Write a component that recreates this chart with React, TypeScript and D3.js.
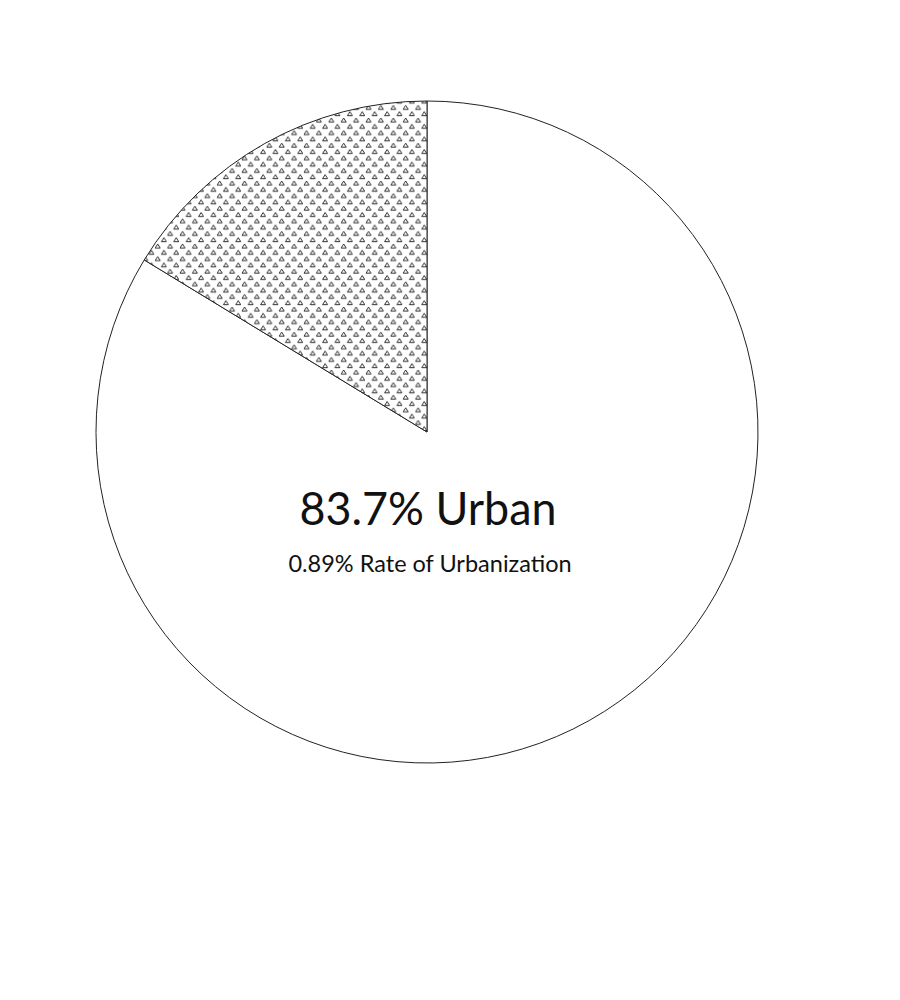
import React from "react";
import { pie, arc, PieArcDatum } from "d3";

// chart size (svg sits inside the 8px body margin)
const width = 884;
const height = 984;

const cx = 419;
const cy = 424;
const radius = 331;

// Data
const categories = ["Urban", "Rural"];
const shares = [83.7, 16.3];
const headline = "83.7% Urban";
const subline = "0.89% Rate of Urbanization";

type Slice = { name: string; value: number };
const slices: Slice[] = categories.map((name, i) => ({ name, value: shares[i] }));

const pieGen = pie<Slice>()
  .sort(null)
  .value((d) => d.value)
  .startAngle(0)
  .endAngle(Math.PI * 2);

const arcGen = arc<PieArcDatum<Slice>>().innerRadius(0).outerRadius(radius);

const fontFamily = "'Gill Sans', Lato, 'Open Sans', sans-serif";

// small outlined triangles, staggered rows
const TrianglePattern = () => (
  <pattern id="tri" patternUnits="userSpaceOnUse" width={12.4} height={12.6}>
    <rect width={12.4} height={12.6} fill="#fff" />
    <path d="M1,5 L3.5,1 L6,5 Z" fill="none" stroke="#1a1a1a" strokeWidth={0.9} />
    <path d="M7.2,11.3 L9.7,7.3 L12.2,11.3 Z" fill="none" stroke="#1a1a1a" strokeWidth={0.9} />
  </pattern>
);

const App = () => {
  const arcs = pieGen(slices);
  return (
    <svg width={width} height={height} style={{ display: "block" }}>
      <defs>
        <TrianglePattern />
      </defs>
      <g transform={`translate(${cx},${cy})`}>
        {arcs.map((a) => (
          <path
            key={a.data.name}
            d={arcGen(a) ?? ""}
            fill={a.data.name === "Rural" ? "url(#tri)" : "#fff"}
            stroke="#222"
            strokeWidth={1}
          />
        ))}
        <text
          x={1}
          y={93}
          textAnchor="middle"
          fontFamily={fontFamily}
          fontSize={46}
          textLength={257}
          lengthAdjust="spacingAndGlyphs"
          fill="#111"
        >
          {headline}
        </text>
        <text
          x={3}
          y={140}
          textAnchor="middle"
          fontFamily={fontFamily}
          fontSize={23.5}
          fill="#111"
        >
          {subline}
        </text>
      </g>
    </svg>
  );
};

export default App;
